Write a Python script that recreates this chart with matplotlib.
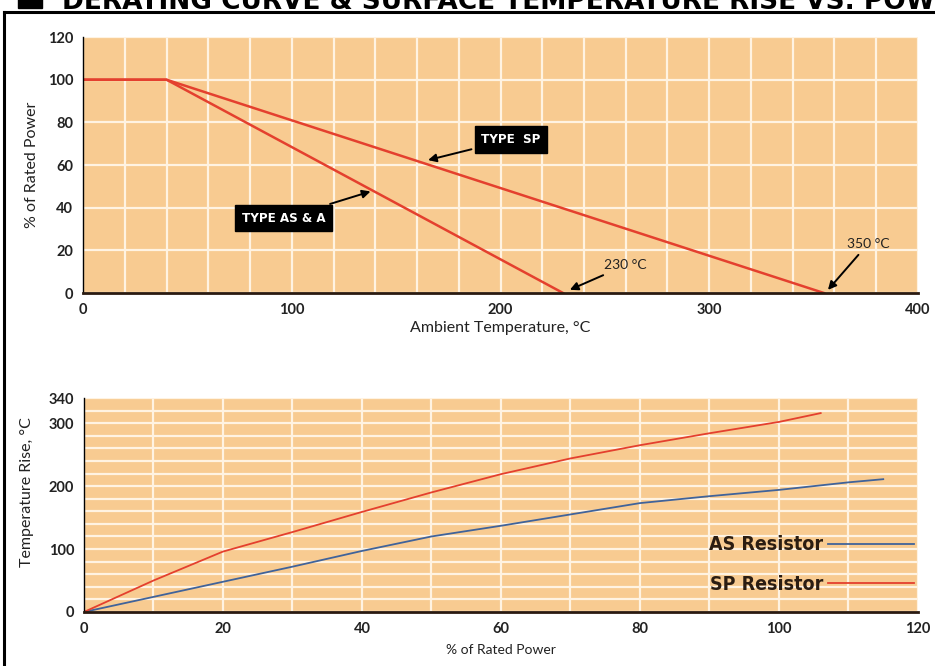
import numpy as np
import matplotlib
matplotlib.use("Agg")
import matplotlib.pyplot as plt
from matplotlib.lines import Line2D
from matplotlib.patches import Rectangle

# derating curves (top)
temp_as = [0, 40, 230]
power_as = [100, 100, 0]
temp_sp = [0, 40, 355]
power_sp = [100, 100, 0]

# temperature rise (bottom)
load_sp = [0, 10, 20, 30, 40, 50, 60, 70, 80, 90, 100, 106]
rise_sp = [0, 50, 96, 127, 159, 190, 219, 244, 265, 284, 302, 316]
load_as = [0, 10, 20, 30, 40, 50, 60, 70, 80, 90, 100, 110, 115]
rise_as = [0, 24, 48, 72, 97, 120, 137, 155, 173, 184, 194, 206, 211]

top_xticks = [0, 100, 200, 300, 400]
top_yticks = [0, 20, 40, 60, 80, 100, 120]
bot_xticks = [0, 20, 40, 60, 80, 100, 120]
bot_yticks = [0, 100, 200, 300, 340]

BG = "#F8CB91"
GRID = "#FFF3E2"
RED = "#E4402E"
BLUE = "#40639A"
INK = "#222222"

plt.rcParams['font.family'] = ['Lato', 'DejaVu Sans']

fig = plt.figure(figsize=(9.35, 6.66), dpi=100)


def style_axes(ax):
    ax.set_facecolor(BG)
    ax.set_axisbelow(True)
    ax.grid(True, which='both', color=GRID, lw=1.6)
    for s in ('top', 'right'):
        ax.spines[s].set_visible(False)
    ax.spines['left'].set_linewidth(1.0)
    ax.spines['bottom'].set_linewidth(2.0)
    ax.spines['bottom'].set_color('#2a1a10')
    ax.tick_params(which='both', length=0, labelsize=10.5, colors=INK, pad=7)
    for t in ax.get_xticklabels() + ax.get_yticklabels():
        t.set_fontweight('bold')


# ---- top: derating curve
ax1 = fig.add_axes([0.0888, 0.560, 0.893, 0.3844])
ax1.plot(temp_as, power_as, color=RED, lw=1.8)
ax1.plot(temp_sp, power_sp, color=RED, lw=1.8)
ax1.set_xlim(0, 400)
ax1.set_ylim(0, 120)
ax1.set_xticks(top_xticks)
ax1.set_xticks(np.arange(0, 401, 20), minor=True)
ax1.set_yticks(top_yticks)
style_axes(ax1)
ax1.set_xlabel("Ambient Temperature, °C", fontsize=11.5, color=INK, labelpad=3)
ax1.set_ylabel("% of Rated Power", fontsize=11.5, color=INK, labelpad=6)

box = dict(boxstyle='square,pad=0.5', fc='black', ec='black')
arrow = dict(arrowstyle='-|>', color='black', lw=1.4, mutation_scale=12)
narrow = dict(family=['DejaVu Sans'], stretch='condensed')
ax1.annotate("TYPE  SP", xy=(164, 62), xytext=(205, 72), color='white',
             fontsize=9.5, fontweight='bold', ha='center', va='center',
             bbox=box, arrowprops=arrow, **narrow)
ax1.annotate("TYPE AS & A", xy=(139, 48), xytext=(96, 35), color='white',
             fontsize=9.5, fontweight='bold', ha='center', va='center',
             bbox=box, arrowprops=arrow, **narrow)
ax1.annotate("230 °C", xy=(232, 1), xytext=(260, 13), color=INK,
             fontsize=10, ha='center', va='center', arrowprops=arrow)
ax1.annotate("350 °C", xy=(356, 0.5), xytext=(376, 23), color=INK,
             fontsize=10, ha='center', va='center', arrowprops=arrow)

# ---- bottom: temperature rise
ax2 = fig.add_axes([0.0898, 0.0811, 0.892, 0.3213])
ax2.plot(load_as, rise_as, color=BLUE, lw=1.3, label="AS Resistor")
ax2.plot(load_sp, rise_sp, color=RED, lw=1.3, label="SP Resistor")
ax2.set_xlim(0, 120)
ax2.set_ylim(0, 340)
ax2.set_xticks(bot_xticks)
ax2.set_xticks(np.arange(0, 121, 10), minor=True)
ax2.set_yticks(bot_yticks)
ax2.set_yticks(np.arange(0, 341, 20), minor=True)
style_axes(ax2)
ax2.set_xlabel("% of Rated Power", fontsize=10, color=INK, labelpad=6)
ax2.set_ylabel("Temperature Rise, °C", fontsize=11.5, color=INK, labelpad=4)
ax2.yaxis.set_label_coords(-0.06, 0.56)

leg = ax2.legend(loc='lower right', bbox_to_anchor=(0.995, 0.085),
                 borderaxespad=0, borderpad=0,
                 markerfirst=False, frameon=False, handlelength=4.4,
                 handletextpad=0.25, labelspacing=1.05,
                 prop=dict(family=['DejaVu Sans'], stretch='condensed',
                           weight='bold', size=14))
for t in leg.get_texts():
    t.set_color('#2b1d12')

# ---- frame and cut-off title
fx = 4 / 935
fy = 1 - 12 / 666
fig.add_artist(Line2D([fx, fx], [0, fy], color='black', lw=2.2))
fig.add_artist(Line2D([fx, 1], [fy, fy], color='black', lw=2.2))
fig.add_artist(Rectangle((18 / 935, 1 - 8 / 666), 24 / 935, 10 / 666,
                         transform=fig.transFigure, color='black'))
fig.text(62 / 935, 1 - 9 / 666, "DERATING CURVE & SURFACE TEMPERATURE RISE VS. POWER",
         fontsize=19, fontweight='bold', va='baseline', ha='left',
         family='DejaVu Sans', color='black')

fig.savefig("out.png", dpi=100)
